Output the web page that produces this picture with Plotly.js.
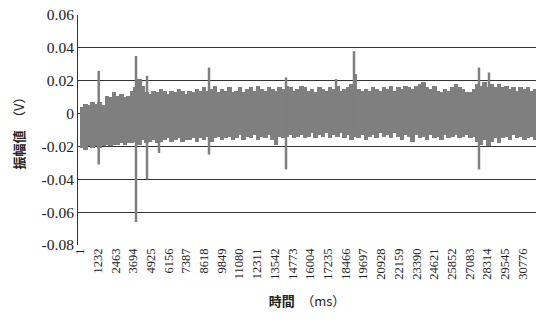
<!DOCTYPE html>
<html>
<head>
<meta charset="utf-8">
<script src="https://cdn.plot.ly/plotly-3.0.1.min.js"></script>
<style>html,body{margin:0;padding:0;background:#fff;}#chart{width:536px;height:320px;}</style>
</head>
<body>
<div id="chart"></div>
<script>
// time (ms) of envelope samples
var timeMs = [0,250,500,750,1000,1250,1500,1750,2000,2250,2500,2750,3000,3250,3500,3750,4000,4250,4500,4750,
5000,5250,5500,5750,6000,6250,6500,6750,7000,7250,7500,7750,8000,8250,8500,8750,9000,9250,9500,9750,
10000,10250,10500,10750,11000,11250,11500,11750,12000,12250,12500,12750,13000,13250,13500,13750,14000,14250,14500,14750,
15000,15250,15500,15750,16000,16250,16500,16750,17000,17250,17500,17750,18000,18250,18500,18750,19000,19250,19500,19750,
20000,20250,20500,20750,21000,21250,21500,21750,22000,22250,22500,22750,23000,23250,23500,23750,24000,24250,24500,24750,
25000,25250,25500,25750,26000,26250,26500,26750,27000,27250,27500,27750,28000,28250,28500,28750,29000,29250,29500,29750,
30000,30250,30500,30750,31000,31250,31500,31750];
// upper envelope of the signal (V)
var upperV = [0.004,0.006,0.005,0.007,0.006,0.007,0.005,0.011,0.010,0.013,0.011,0.012,0.010,0.011,0.014,0.016,0.021,0.017,0.013,0.012,
0.014,0.013,0.015,0.014,0.012,0.014,0.013,0.015,0.014,0.012,0.014,0.013,0.015,0.014,0.016,0.014,0.015,0.017,0.013,0.015,
0.014,0.016,0.013,0.014,0.016,0.013,0.015,0.016,0.014,0.017,0.015,0.014,0.016,0.015,0.014,0.016,0.015,0.017,0.016,0.014,
0.015,0.017,0.016,0.014,0.015,0.013,0.016,0.015,0.014,0.016,0.015,0.017,0.014,0.015,0.016,0.018,0.024,0.015,0.014,0.015,
0.014,0.016,0.015,0.014,0.016,0.015,0.017,0.014,0.016,0.015,0.017,0.016,0.015,0.017,0.018,0.019,0.016,0.015,0.017,0.014,
0.013,0.015,0.014,0.016,0.018,0.016,0.015,0.013,0.013,0.015,0.018,0.017,0.019,0.016,0.018,0.016,0.018,0.016,0.017,0.015,
0.016,0.014,0.016,0.015,0.016,0.014,0.015,0.016];
// lower envelope of the signal (V)
var lowerV = [-0.021,-0.022,-0.020,-0.021,-0.020,-0.021,-0.020,-0.019,-0.020,-0.019,-0.019,-0.018,-0.019,-0.018,-0.018,-0.017,-0.019,-0.016,-0.018,-0.017,
-0.016,-0.018,-0.017,-0.016,-0.015,-0.017,-0.016,-0.015,-0.017,-0.016,-0.016,-0.015,-0.017,-0.015,-0.016,-0.014,-0.017,-0.015,-0.014,-0.016,
-0.015,-0.014,-0.016,-0.015,-0.013,-0.016,-0.014,-0.015,-0.013,-0.016,-0.014,-0.015,-0.013,-0.016,-0.019,-0.014,-0.015,-0.014,-0.013,-0.015,
-0.014,-0.013,-0.015,-0.014,-0.012,-0.015,-0.013,-0.014,-0.012,-0.015,-0.013,-0.014,-0.012,-0.015,-0.013,-0.016,-0.014,-0.015,-0.013,-0.016,
-0.014,-0.013,-0.015,-0.012,-0.014,-0.013,-0.015,-0.012,-0.014,-0.016,-0.013,-0.014,-0.017,-0.013,-0.015,-0.014,-0.016,-0.013,-0.015,-0.014,
-0.016,-0.013,-0.015,-0.014,-0.013,-0.015,-0.014,-0.013,-0.015,-0.014,-0.017,-0.019,-0.016,-0.020,-0.017,-0.015,-0.018,-0.015,-0.014,-0.016,
-0.013,-0.015,-0.014,-0.016,-0.015,-0.014,-0.016,-0.015];
// isolated spikes
var spikeMs = [1300,3892,4657,5490,8966,14317,17792,19043,27730,28425];
var spikeHi = [0.026,0.035,0.023,0.010,0.028,0.022,0.021,0.038,0.028,0.025];
var spikeLo = [-0.031,-0.066,-0.040,-0.024,-0.025,-0.034,-0.010,-0.012,-0.034,-0.018];
// category tick labels
var xTickVals = [1,1232,2463,3694,4925,6156,7387,8618,9849,11080,12311,13542,14773,16004,17235,18466,19697,20928,22159,23390,24621,25852,27083,28314,29545,30776];
var yTickVals = [-0.08,-0.06,-0.04,-0.02,0,0.02,0.04,0.06];
var yTickText = ["-0.08","-0.06","-0.04","-0.02","0","0.02","0.04","0.06"];

var col = '#7f7f7f';
var serif = "Liberation Serif";
var cjk = "Noto Sans CJK JP";
var sx = [], sy = [];
for (var i = 0; i < spikeMs.length; i++) {
  sx.push(spikeMs[i], spikeMs[i], null);
  sy.push(spikeLo[i], spikeHi[i], null);
}
var traces = [
  {x: timeMs, base: lowerV, y: upperV.map(function (u, i) { return u - lowerV[i]; }), type: 'bar',
   width: 320, offset: -35, marker: {color: col, line: {width: 0}}, hoverinfo: 'skip'},
  {x: sx, y: sy, type: 'scatter', mode: 'lines', line: {color: col, width: 2.5}, hoverinfo: 'skip'}
];
var layout = {
  width: 536, height: 320,
  margin: {l: 78, r: 0, t: 15, b: 75},
  paper_bgcolor: '#fff', plot_bgcolor: '#fff',
  showlegend: false, bargap: 0, barmode: 'overlay',
  xaxis: {
    range: [-139, 31692],
    tickmode: 'array', tickvals: xTickVals, ticktext: xTickVals.map(String),
    tickangle: -90, tickfont: {family: serif, size: 12.5, color: '#222'},
    showgrid: false, zeroline: false, showline: false, ticks: '',
    title: {text: '<b>時間</b>　（ms）', font: {family: cjk, size: 13, color: '#222'}, standoff: 18}
  },
  yaxis: {
    range: [-0.08, 0.06],
    tickmode: 'array', tickvals: yTickVals, ticktext: yTickText,
    tickfont: {family: serif, size: 15.5, color: '#222'},
    showgrid: true, gridcolor: '#333', gridwidth: 1,
    zeroline: false, showline: true, linecolor: '#333', linewidth: 1, ticks: '',
    title: {text: '<b>振幅値</b>　（V）', font: {family: cjk, size: 13, color: '#222'}, standoff: 14}
  }
};
Plotly.newPlot('chart', traces, layout, {staticPlot: true, displayModeBar: false});
</script>
</body>
</html>
